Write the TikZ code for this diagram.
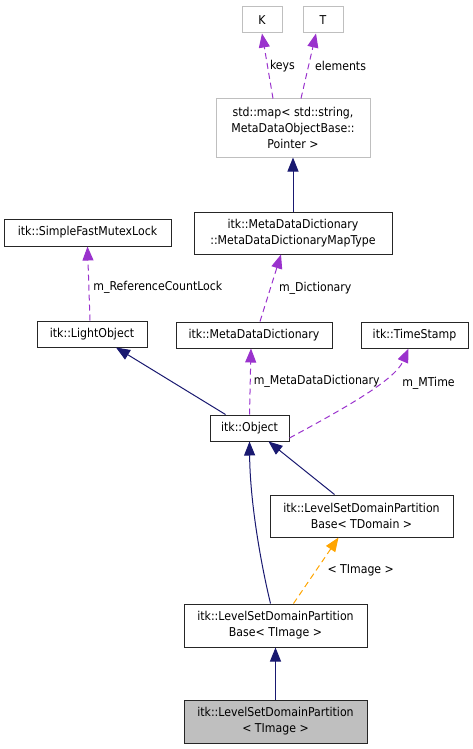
\documentclass[tikz,border=0pt]{standalone}
\usepackage{fontspec}
\setmainfont{DejaVu Sans Condensed}
\usetikzlibrary{arrows.meta}

\definecolor{inhblue}{HTML}{191970}
\definecolor{usepurple}{HTML}{9A32CD}
\definecolor{tmplorange}{HTML}{FFA500}
\definecolor{extgrey}{HTML}{BFBFBF}

\begin{document}
\begin{tikzpicture}[x=1pt, y=-1pt,
    cls/.style={draw=black!85, line width=1pt, fill=white, inner sep=0pt, align=center,
      font=\fontsize{12.2}{15.8}\selectfont},
    extcls/.style={cls, draw=extgrey},
    inherit/.style={draw=inhblue, line width=1pt, -{Triangle[length=14pt,width=11pt]}},
    uses/.style={draw=usepurple, line width=1pt, dash pattern=on 6pt off 4pt,
      -{Triangle[length=14pt,width=11pt,fill=usepurple]}},
    tmpl/.style={draw=tmplorange, line width=1pt, dash pattern=on 6pt off 4pt,
      -{Triangle[length=14pt,width=11pt,fill=tmplorange]}},
    lbl/.style={inner sep=0pt, font=\fontsize{12.2}{14}\selectfont}]
    \useasboundingbox (0,0) rectangle (473,749);
    % template argument boxes
    \node[extcls, minimum width=40, minimum height=26] (K) at (262,20) {K};
    \node[extcls, minimum width=40, minimum height=26] (T) at (323,20) {T};
    % std::map box
    \node[extcls, minimum width=154, minimum height=58] (stdmap) at (293,128)
      {std::map< std::string,\\ MetaDataObjectBase::\\ Pointer >};
    % dictionary map type box
    \node[cls, minimum width=198, minimum height=42] (maptype) at (293,233)
      {itk::MetaDataDictionary\\ ::MetaDataDictionaryMapType};
    % mutex lock box
    \node[cls, minimum width=167, minimum height=27] (mutex) at (87.5,232.5)
      {itk::SimpleFastMutexLock};
    % row of members
    \node[cls, minimum width=110, minimum height=26] (lightobj) at (92,334) {itk::LightObject};
    \node[cls, minimum width=156, minimum height=26] (dict) at (254,335) {itk::MetaDataDictionary};
    \node[cls, minimum width=107, minimum height=26] (tstamp) at (414.5,335) {itk::TimeStamp};
    % itk::Object box
    \node[cls, minimum width=79, minimum height=26] (object) at (249.5,428) {itk::Object};
    % partition base boxes
    \node[cls, minimum width=183, minimum height=42] (baseTDomain) at (361.5,516)
      {itk::LevelSetDomainPartition\\ Base< TDomain >};
    \node[cls, minimum width=183, minimum height=43] (baseTImage) at (275.5,625.5)
      {itk::LevelSetDomainPartition\\ Base< TImage >};
    % this class
    \node[cls, fill=extgrey, minimum width=183, minimum height=43] (partition) at (275.5,721.5)
      {itk::LevelSetDomainPartition\\ < TImage >};
    % Arrows
    \draw[uses] ([xshift=-20pt]stdmap.north) -- (K.south)
      node[lbl, midway, right=2pt] {keys};
    \draw[uses] ([xshift=8pt]stdmap.north) -- ([xshift=-7pt]T.south)
      node[lbl, midway, right=6pt] {elements};
    \draw[inherit] (maptype.north) -- (stdmap.south);
    \draw[uses] ([xshift=6pt]dict.north) -- ([xshift=-12pt]maptype.south)
      node[lbl, midway, right=8pt] {m\_Dictionary};
    \draw[uses] ([xshift=-2pt]lightobj.north) -- (mutex.south)
      node[lbl, pos=0.45, right=4pt] {m\_ReferenceCountLock};
    \draw[inherit] ([xshift=-24pt]object.north) -- ([xshift=24pt]lightobj.south);
    \draw[uses] (object.north) -- ([xshift=-3pt]dict.south)
      node[lbl, midway, right=3pt] {m\_MetaDataDictionary};
    \draw[uses] ([yshift=-10pt]object.east) .. controls (345,408) and (395,380) .. ([xshift=-6pt]tstamp.south)
      node[lbl, pos=0.6, anchor=west, xshift=25pt, yshift=2pt] {m\_MTime};
    \draw[inherit] ([xshift=-5pt]baseTImage.north) .. controls (260,560) and (250,500) .. (object.south);
    \draw[inherit] ([xshift=-27pt]baseTDomain.north) -- ([xshift=19pt]object.south);
    \draw[tmpl] ([xshift=18pt]baseTImage.north) -- ([xshift=-23pt]baseTDomain.south)
      node[lbl, midway, right=11pt] {< TImage >};
    \draw[inherit] (partition.north) -- (baseTImage.south);
\end{tikzpicture}
\end{document}
